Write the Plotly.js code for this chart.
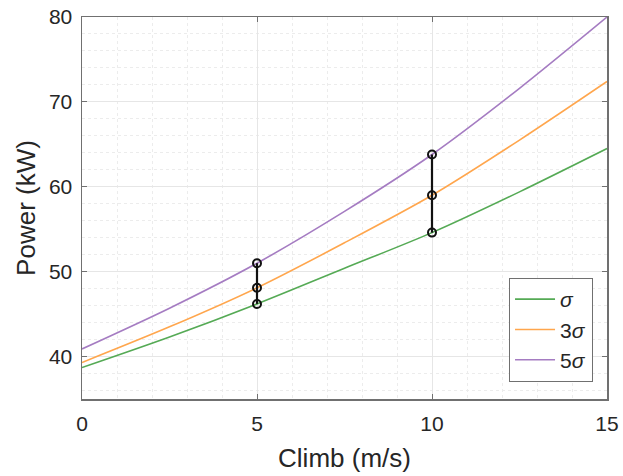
<!DOCTYPE html>
<html>
<head>
<meta charset="utf-8">
<script src="https://cdn.plot.ly/plotly-3.0.1.min.js"></script>
<style>html,body{margin:0;padding:0;background:#fff;}#chart{width:623px;height:476px;}</style>
</head>
<body>
<div id="chart"></div>
<script>
// Data
const climb = [0, 2.5, 5, 7.5, 10, 12.5, 15];
const powerSigma1 = [38.7, 42.3, 46.2, 50.4, 54.6, 59.4, 64.5];
const powerSigma3 = [39.3, 43.5, 48.1, 53.4, 59.0, 65.5, 72.4];
const powerSigma5 = [40.9, 45.7, 51.0, 57.1, 63.8, 71.6, 80.0];
const seriesNames = ['<i>σ</i>', '3<i>σ</i>', '5<i>σ</i>'];
const markerClimbA = [5, 5, 5];
const markerPowerA = [46.2, 48.1, 51.0];
const markerClimbB = [10, 10, 10];
const markerPowerB = [54.6, 59.0, 63.8];
const xTicks = [0, 5, 10, 15];
const yTicks = [40, 50, 60, 70, 80];

const colors = ['#55aa55', '#ffa64d', '#a57cc2'];
const series = [powerSigma1, powerSigma3, powerSigma5];

const traces = series.map((s, i) => ({
  x: climb, y: s, type: 'scatter', mode: 'lines', name: seriesNames[i],
  line: {color: colors[i], width: 1.6, shape: 'spline', smoothing: 0.8}
}));
[[markerClimbA, markerPowerA], [markerClimbB, markerPowerB]].forEach(([xs, ys]) => {
  traces.push({
    x: xs, y: ys, type: 'scatter', mode: 'lines+markers', showlegend: false,
    line: {color: '#111', width: 2.2},
    marker: {symbol: 'circle-open', size: 8, color: '#111', line: {width: 2, color: '#111'}}
  });
});

const axisCommon = {
  showline: true, linecolor: '#707070', linewidth: 1.5, mirror: 'ticks',
  ticks: 'inside', ticklen: 5, tickcolor: '#707070', tickwidth: 1,
  showgrid: true, gridcolor: '#e6e6e6', gridwidth: 1, zeroline: false,
  tickfont: {family: 'Liberation Sans, Arial, sans-serif', size: 21, color: '#262626'}
};

const layout = {
  width: 623, height: 476,
  margin: {l: 82, r: 16, t: 17, b: 77},
  paper_bgcolor: '#fff', plot_bgcolor: '#fff',
  font: {family: 'Liberation Sans, Arial, sans-serif', color: '#262626'},
  xaxis: Object.assign({}, axisCommon, {
    range: [0, 15], tickvals: xTicks, ticktext: xTicks.map(String),
    ticklabelstandoff: 5,
    minor: {dtick: 1, tick0: 0, showgrid: true, gridcolor: '#ececec', griddash: 'dot', gridwidth: 1, ticks: ''},
    title: {text: 'Climb (m/s)', font: {size: 26, color: '#262626'}, standoff: 15}
  }),
  yaxis: Object.assign({}, axisCommon, {
    range: [35, 80], tickvals: yTicks, ticktext: yTicks.map(String),
    ticklabelstandoff: 4,
    minor: {dtick: 2, tick0: 0, showgrid: true, gridcolor: '#ececec', griddash: 'dot', gridwidth: 1, ticks: ''},
    title: {text: 'Power (kW)', font: {size: 26, color: '#262626'}, standoff: 6}
  }),
  legend: {
    x: 0.973, xanchor: 'right', y: 0.045, yanchor: 'bottom',
    bordercolor: '#707070', borderwidth: 1.2, bgcolor: '#fff',
    font: {size: 21, color: '#262626'}, tracegroupgap: 0, itemwidth: 40
  },
  showlegend: true
};

Plotly.newPlot('chart', traces, layout, {displayModeBar: false, staticPlot: true});
</script>
</body>
</html>
